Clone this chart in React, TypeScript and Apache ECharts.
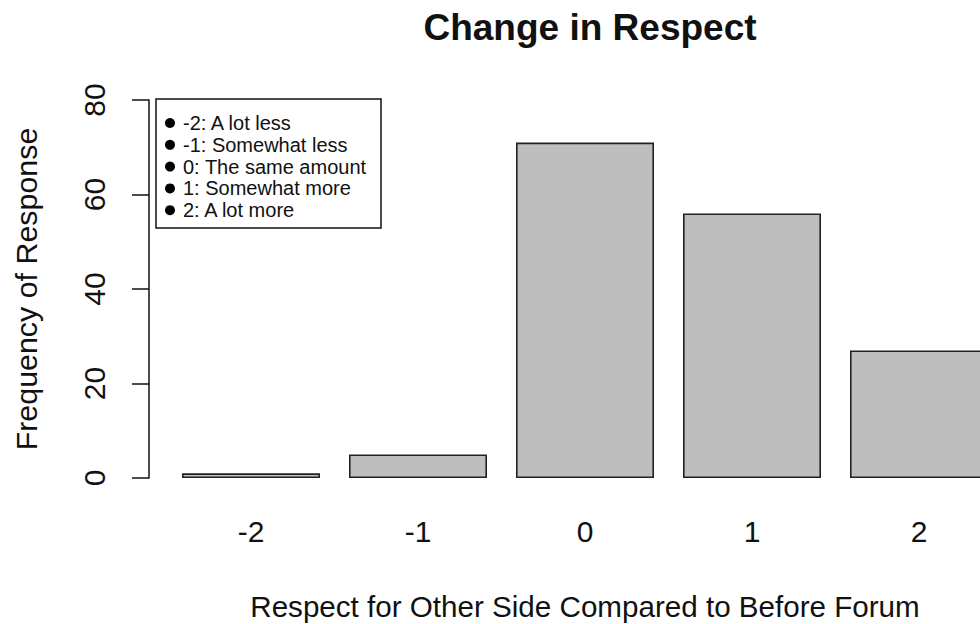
import React, { useEffect, useRef } from "react";
import * as echarts from "echarts";

const categories = ["-2", "-1", "0", "1", "2"];
const frequencies = [1, 5, 71, 56, 27];
const yTicks = { min: 0, max: 80, interval: 20 };
const legendLabels = [
  "-2: A lot less",
  "-1: Somewhat less",
  "0: The same amount",
  "1: Somewhat more",
  "2: A lot more",
];
const titleText = "Change in Respect";
const xTitle = "Respect for Other Side Compared to Before Forum";
const yTitle = "Frequency of Response";

const FONT = "'Liberation Sans', Arial, sans-serif";
const INK = "#111";

export default function App() {
  const ref = useRef<HTMLDivElement>(null);
  useEffect(() => {
    if (!ref.current) return;
    const chart = echarts.init(ref.current, null, { renderer: "svg" });
    const legendItems: any[] = [];
    legendLabels.forEach((t, i) => {
      const cy = 123 + i * 21.8;
      legendItems.push({
        type: "circle",
        shape: { cx: 170, cy, r: 5 },
        style: { fill: "#000" },
      });
      legendItems.push({
        type: "text",
        x: 183,
        y: cy,
        style: {
          text: t,
          font: `20px ${FONT}`,
          fill: INK,
          verticalAlign: "middle",
        },
      });
    });
    chart.setOption({
      animation: false,
      backgroundColor: "#fff",
      title: {
        text: titleText,
        left: 585,
        top: 4,
        textAlign: "center",
        textStyle: { fontFamily: FONT, fontSize: 37, fontWeight: "bold", color: INK },
      },
      grid: {
        left: 167.5,
        top: 100,
        width: 835,
        height: 378,
        outerBoundsMode: "none",
        containLabel: false,
      },
      xAxis: {
        type: "category",
        data: categories,
        axisLine: { show: false },
        axisTick: { show: false },
        axisLabel: { fontFamily: FONT, fontSize: 30, color: INK, margin: 38 },
        name: xTitle,
        nameLocation: "middle",
        nameGap: 113,
        nameTextStyle: { fontFamily: FONT, fontSize: 29.6, color: INK },
      },
      yAxis: {
        type: "value",
        min: yTicks.min,
        max: yTicks.max,
        interval: yTicks.interval,
        offset: 18.5,
        splitLine: { show: false },
        axisLine: { show: true, lineStyle: { color: "#111", width: 1.5 } },
        axisTick: { show: true, length: 17, lineStyle: { color: "#111", width: 1.5 } },
        axisLabel: { fontFamily: FONT, fontSize: 30, color: INK, rotate: 90, margin: 40 },
        name: yTitle,
        nameLocation: "middle",
        nameRotate: 90,
        nameGap: 108,
        nameTextStyle: { fontFamily: FONT, fontSize: 30.4, color: INK },
      },
      series: [
        {
          type: "bar",
          data: frequencies,
          barWidth: 138,
          itemStyle: { color: "#BEBEBE", borderColor: "#222", borderWidth: 1.6 },
        },
      ],
      graphic: [
        {
          type: "rect",
          shape: { x: 156, y: 99, width: 225, height: 129 },
          style: { fill: "#fff", stroke: "#111", lineWidth: 1.5 },
        },
        ...legendItems,
      ],
    });
    return () => chart.dispose();
  }, []);
  return (
    <div
      ref={ref}
      style={{ position: "fixed", left: 0, top: 0, width: 980, height: 624 }}
    />
  );
}
